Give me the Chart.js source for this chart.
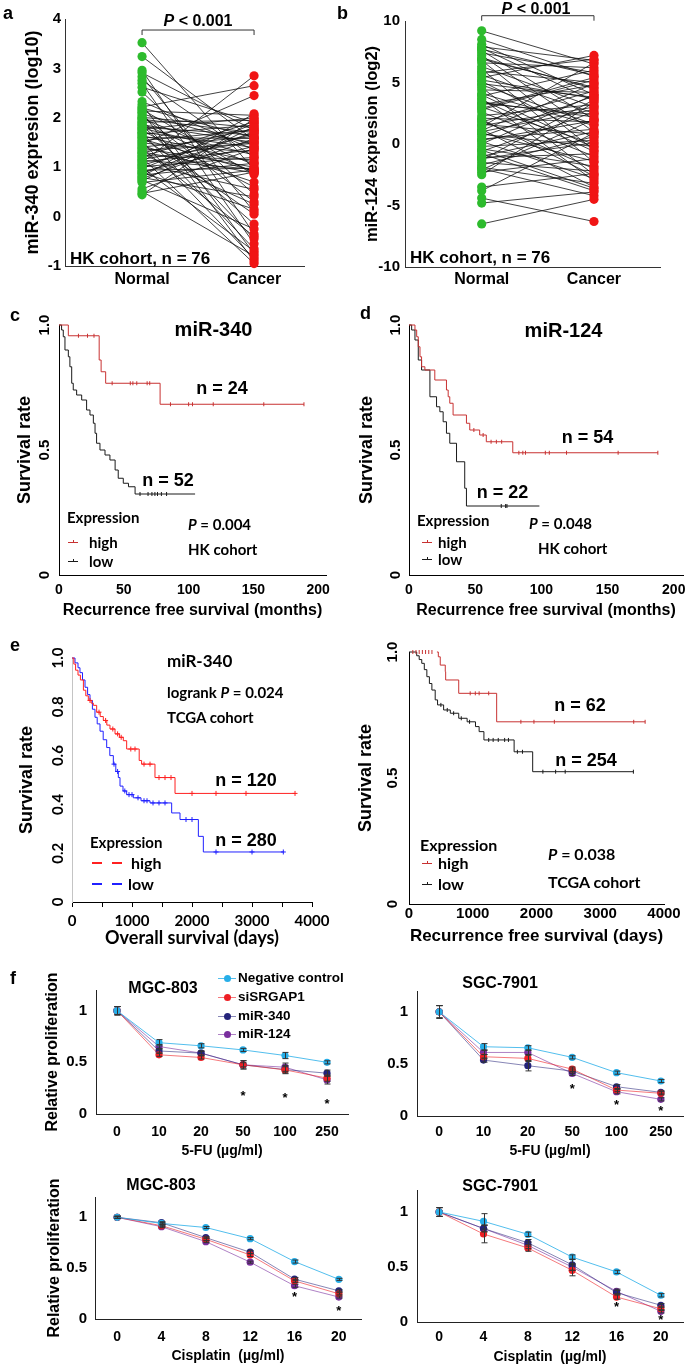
<!DOCTYPE html>
<html><head><meta charset="utf-8">
<script src="https://cdn.jsdelivr.net/npm/chart.js@4.4.1/dist/chart.umd.min.js"></script>
<style>
html,body{margin:0;padding:0;background:#fff;}
#root{position:relative;width:685px;height:1366px;overflow:hidden;background:#fff;}
.t{position:absolute;white-space:nowrap;line-height:1;color:#000;font-weight:bold;}
.A{font-family:'Liberation Sans',Arial,sans-serif;}
.C{font-family:Lato,'Liberation Sans',sans-serif;}
.mk{position:absolute;}
</style></head><body><div id="root"></div>
<script>
// ---------------- DATA ----------------
const pairCats = ['Normal', 'Cancer'];
const a_normal = [3.52, 3.24, 2.96, 2.91, 2.83, 2.76, 2.70, 2.62, 2.52, 2.33,
  2.27, 2.22, 2.20, 2.17, 2.14, 2.11, 2.08, 2.04, 2.01, 1.99,
  1.97, 1.93, 1.91, 1.88, 1.86, 1.84, 1.81, 1.79, 1.77, 1.74,
  1.71, 1.69, 1.67, 1.64, 1.61, 1.60, 1.57, 1.54, 1.52, 1.49,
  1.47, 1.44, 1.41, 1.39, 1.37, 1.34, 1.31, 1.29, 1.27, 1.24,
  1.21, 1.19, 1.16, 1.14, 1.11, 1.09, 1.06, 1.04, 1.01, 0.99,
  0.97, 0.94, 0.91, 0.89, 0.87, 0.84, 0.81, 0.79, 0.77, 0.74,
  0.72, 0.69, 0.56, 0.51, 0.47, 0.44];
const a_cancer = [0.95, 1.55, -0.35, 1.75, 0.10, 1.20, -0.55, 1.90, 0.45, 1.35,
  -0.75, 2.65, 1.60, 0.85, 2.05, -0.90, 1.45, 0.30, 1.80, 1.05,
  1.70, -0.45, 1.95, 0.90, 1.50, -0.15, 1.65, 1.25, 2.00, 0.60,
  1.40, -0.65, 1.85, 1.10, 0.05, 1.58, 0.92, 1.75, -0.85, 1.30,
  2.45, 0.70, 1.62, 1.00, -0.40, 1.48, 0.88, 1.78, 0.25, 1.15,
  1.92, -0.95, 1.52, 0.96, 1.35, 2.85, 0.55, 1.68, 1.20, -0.70,
  1.88, 0.98, 1.42, 0.15, 1.72, 1.08, 2.08, 0.40, 1.58, -0.25,
  1.82, 0.94, 1.38, -0.80, 0.90, 1.98];
const b_normal = [9.2, 8.5, 8.1, 7.9, 7.8, 7.6, 7.4, 7.2, 7.0, 6.8,
  6.6, 6.3, 6.1, 5.9, 5.6, 5.4, 5.1, 4.9, 4.6, 4.4,
  4.1, 3.9, 3.7, 3.4, 3.2, 3.0, 2.8, 2.6, 2.3, 2.1,
  1.9, 1.8, 1.6, 1.4, 1.2, 1.0, 0.8, 0.6, 0.4, 0.2,
  0.0, -0.2, -0.4, -0.6, -0.8, -1.0, -1.1, -1.3, -1.5, -1.7,
  -1.9, -2.1, -2.3, -2.5, 7.7, 6.9, 5.8, 4.8, 3.6, 2.9,
  2.0, 1.5, 0.9, 0.3, -0.5, -1.2, -2.0, 5.2, 4.0, 1.1,
  -3.5, -3.8, -4.4, -4.8, -6.5, 3.3];
const b_cancer = [6.5, 5.5, 4.0, 6.8, 3.5, 2.0, 5.8, 1.0, 4.5, -0.5,
  6.2, 3.0, -1.5, 5.0, 2.5, 7.2, 0.5, 3.8, -2.5, 4.2,
  1.5, 6.0, -3.0, 2.2, 4.8, 0.0, 5.2, -1.0, 3.2, 1.8,
  -2.0, 4.3, 0.8, 6.6, -3.5, 2.8, -0.2, 3.9, 1.2, -2.8,
  4.0, 0.3, -1.8, 2.6, -3.8, 1.0, -0.8, 3.6, -2.2, 0.6,
  -3.2, 2.0, -1.2, 3.4, 5.6, 4.6, 6.9, 1.6, -0.6, 5.4,
  -2.6, 3.0, -1.4, 1.9, -3.6, 0.1, -4.2, 3.7, -0.3, 4.9,
  -2.4, 0.9, -6.3, -3.9, -4.5, 2.4];

// c: miR-340 HK cohort (months)
const c_high_t = [0, 7.2, 31, 32.5, 36, 78, 189];
const c_high_s = [1.0, 0.957, 0.86, 0.813, 0.767, 0.683, 0.683];
const c_high_cens = [15, 22, 27, 41, 55, 57, 60, 68, 70, 86, 100, 103, 119, 158, 189];
const c_low_t = [0, 2, 3.3, 4.6, 7.2, 8.4, 9.8, 11, 13.6, 17.5, 21.3, 23.9, 26.5, 27.8, 29, 31.6, 35.5, 39.3, 43.3, 45.7, 49.6, 53.6, 58.7, 105];
const c_low_s = [1.0, 0.98, 0.953, 0.90, 0.873, 0.833, 0.767, 0.74, 0.72, 0.70, 0.66, 0.64, 0.607, 0.567, 0.527, 0.50, 0.48, 0.46, 0.42, 0.387, 0.367, 0.353, 0.324, 0.324];
const c_low_cens = [62.5, 68.7, 71.7, 74, 76, 79, 83];
// d: miR-124 HK cohort (months)
const d_high_t = [0, 4.5, 5.8, 7, 8.3, 9.5, 12, 19.5, 28.3, 29.6, 30.8, 33.3, 43.4, 45.9, 53.4, 58.4, 78.4, 188];
const d_high_s = [1.0, 0.98, 0.953, 0.913, 0.873, 0.833, 0.82, 0.78, 0.74, 0.713, 0.687, 0.64, 0.607, 0.58, 0.56, 0.533, 0.489, 0.489];
const d_high_cens = [49, 56, 62, 66, 70, 83, 86, 88, 103, 106, 119, 158, 188];
const d_low_t = [0, 2, 4.5, 7, 9.5, 15.8, 20.8, 23.3, 25.8, 28.3, 30.8, 35.9, 42.1, 43.4, 98.5];
const d_low_s = [1.0, 0.98, 0.94, 0.86, 0.82, 0.713, 0.673, 0.653, 0.613, 0.567, 0.527, 0.453, 0.347, 0.276, 0.276];
const d_low_cens = [69.7, 73, 74];
// e: miR-340 TCGA overall survival (days)
const e_high_t = [0, 30, 60, 100, 140, 190, 230, 272, 320, 355, 411, 470, 522, 580, 633, 717, 790, 855, 911, 1120, 1160, 1383, 1717, 3717];
const e_high_s = [1.0, 0.975, 0.95, 0.93, 0.91, 0.868, 0.845, 0.826, 0.815, 0.806, 0.778, 0.76, 0.744, 0.725, 0.709, 0.689, 0.675, 0.661, 0.627, 0.58, 0.565, 0.51, 0.445, 0.445];
const e_high_cens = [300, 450, 560, 680, 760, 820, 980, 1050, 1200, 1300, 1450, 1550, 1650, 2000, 2400, 2900, 3717];
const e_low_t = [0, 50, 100, 133, 175, 217, 260, 300, 340, 383, 420, 467, 520, 578, 630, 689, 730, 772, 800, 850, 911, 1022, 1150, 1300, 1661, 1800, 2106, 2189, 3522];
const e_low_s = [1.0, 0.98, 0.96, 0.94, 0.91, 0.88, 0.85, 0.826, 0.79, 0.757, 0.73, 0.70, 0.665, 0.633, 0.60, 0.565, 0.535, 0.51, 0.475, 0.455, 0.44, 0.427, 0.415, 0.406, 0.365, 0.338, 0.269, 0.205, 0.205];
const e_low_cens = [700, 760, 880, 950, 1000, 1100, 1200, 1250, 1350, 1450, 1550, 1900, 2000, 2400, 3000, 3522];
// e (right): TCGA recurrence free survival (days)
const r_high_t = [438, 460, 490, 569, 575, 780, 1375, 3704];
const r_high_s = [1.0, 0.981, 0.948, 0.922, 0.889, 0.836, 0.723, 0.723];
const r_high_cens = [60, 110, 160, 210, 260, 310, 360, 960, 1040, 1100, 1250, 1755, 1960, 2280, 3525, 3704];
const r_low_t = [0, 121, 160, 200, 240, 280, 320, 359, 411, 448, 543, 648, 780, 912, 1043, 1100, 1175, 1649, 1940, 3520];
const r_low_s = [1.0, 0.985, 0.97, 0.955, 0.93, 0.902, 0.875, 0.849, 0.81, 0.79, 0.77, 0.757, 0.737, 0.723, 0.704, 0.684, 0.651, 0.604, 0.525, 0.525];
const r_low_cens = [500, 600, 700, 820, 950, 1250, 1320, 1400, 1500, 1560, 1700, 1780, 2100, 2300, 2450, 3520];

// f: relative proliferation
const f_series = ['Negative control', 'siSRGAP1', 'miR-340', 'miR-124'];
const fu_doses = ['0', '10', '20', '50', '100', '250'];
const cis_doses = ['0', '4', '8', '12', '16', '20'];
const mgc_fu = [[1.00, 0.69, 0.66, 0.62, 0.566, 0.50], [1.00, 0.573, 0.547, 0.476, 0.427, 0.347], [1.00, 0.61, 0.589, 0.476, 0.43, 0.395], [1.00, 0.653, 0.589, 0.476, 0.453, 0.33]];
const mgc_fu_err = [[0.04, 0.03, 0.02, 0.015, 0.03, 0.015], [0.04, 0.015, 0.015, 0.02, 0.03, 0.03], [0.04, 0.02, 0.02, 0.04, 0.04, 0.03], [0.04, 0.02, 0.02, 0.04, 0.04, 0.04]];
const mgc_fu_star_x = [3, 4, 5], mgc_fu_star_y = [0.2, 0.18, 0.12];
const sgc_fu = [[1.00, 0.665, 0.655, 0.563, 0.416, 0.336], [1.00, 0.569, 0.553, 0.45, 0.249, 0.218], [1.00, 0.537, 0.483, 0.431, 0.281, 0.227], [1.00, 0.61, 0.61, 0.409, 0.233, 0.16]];
const sgc_fu_err = [[0.06, 0.03, 0.02, 0.015, 0.015, 0.015], [0.06, 0.02, 0.03, 0.02, 0.015, 0.015], [0.06, 0.02, 0.05, 0.02, 0.02, 0.015], [0.06, 0.02, 0.02, 0.02, 0.02, 0.015]];
const sgc_fu_star_x = [3, 4, 5], sgc_fu_star_y = [0.28, 0.13, 0.07];
const mgc_cis = [[1.00, 0.94, 0.90, 0.79, 0.565, 0.39], [1.00, 0.918, 0.784, 0.63, 0.375, 0.248], [1.00, 0.947, 0.80, 0.657, 0.392, 0.277], [1.00, 0.908, 0.761, 0.559, 0.327, 0.216]];
const mgc_cis_err = [[0.01, 0.01, 0.01, 0.01, 0.015, 0.01], [0.01, 0.01, 0.015, 0.015, 0.015, 0.01], [0.01, 0.01, 0.01, 0.015, 0.015, 0.01], [0.01, 0.01, 0.01, 0.01, 0.015, 0.01]];
const mgc_cis_star_x = [4, 5], mgc_cis_star_y = [0.24, 0.1];
const sgc_cis = [[1.00, 0.915, 0.797, 0.59, 0.455, 0.243], [1.00, 0.80, 0.673, 0.47, 0.227, 0.12], [1.00, 0.85, 0.72, 0.52, 0.267, 0.152], [1.00, 0.85, 0.697, 0.50, 0.279, 0.097]];
const sgc_cis_err = [[0.04, 0.07, 0.02, 0.02, 0.015, 0.015], [0.04, 0.08, 0.03, 0.05, 0.02, 0.015], [0.04, 0.03, 0.03, 0.05, 0.02, 0.015], [0.04, 0.03, 0.03, 0.03, 0.02, 0.015]];
const sgc_cis_star_x = [4, 5], sgc_cis_star_y = [0.16, 0.04];

// ---------------- STYLE ----------------
const GREEN = '#2dbb2d', RED = '#f01515';
const KM_RED = '#c83232', KM_BLACK = '#1a1a1a', TC_RED = '#ff2020', TC_BLUE = '#2020ff';
const F_COLORS = ['#27aee8', '#ee1f24', '#24237a', '#7a2f9e'];
const F_LINES = ['rgba(39,174,232,0.8)', 'rgba(238,31,36,0.6)', 'rgba(36,35,122,0.55)', 'rgba(122,47,158,0.6)'];
const FAM_A = "'Liberation Sans', Arial, sans-serif";
const FAM_C = "Lato, 'Liberation Sans', sans-serif";
const FA = s => ({family: FAM_A, size: s, weight: 'bold'});
const FC = s => ({family: FAM_C, size: s, weight: 'bold'});
Chart.defaults.font.family = FAM_A;
Chart.defaults.font.weight = 'bold';
Chart.defaults.color = '#000';

const root = document.getElementById('root');

function mk(box, area, cfg) {
  const [bx, by, bw, bh] = box, [L, T, R, B] = area;
  const cv = document.createElement('canvas');
  cv.width = bw; cv.height = bh;
  cv.style.cssText = `position:absolute;left:${bx}px;top:${by}px;width:${bw}px;height:${bh}px;`;
  root.appendChild(cv);
  const o = cfg.options;
  o.responsive = false; o.animation = false; o.events = [];
  o.layout = {padding: {left: 0, top: T - by, right: bx + bw - R, bottom: 0}};
  o.scales.x.afterFit = s => { s.height = by + bh - B; };
  o.scales.y.afterFit = s => { s.width = L - bx; };
  o.plugins = Object.assign({legend: {display: false}, tooltip: {enabled: false}}, o.plugins || {});
  return new Chart(cv, cfg);
}

function T(x, y, html, size, fam, anchor) {
  const d = document.createElement('div');
  d.className = 't ' + fam;
  d.style.left = x + 'px'; d.style.top = y + 'px'; d.style.fontSize = size + 'px';
  d.style.transform = anchor === 'c' ? 'translate(-50%,-50%)' : 'translate(0,-50%)';
  d.innerHTML = html;
  root.appendChild(d);
}
function box(x, y, w, h, css) {
  const d = document.createElement('div');
  d.className = 'mk';
  d.style.cssText += `left:${x}px;top:${y}px;width:${w}px;height:${h}px;` + css;
  root.appendChild(d);
}
function kmKey(x, y, color) { box(x, y - 0.5, 10, 1, 'background:' + color); box(x + 5, y - 2, 1, 2, 'background:' + color); }

// ---------------- PLUGINS ----------------
const bracket = {
  id: 'bracket',
  afterDraw(chart, args, o) {
    const ctx = chart.ctx, xs = chart.scales.x, ys = chart.scales.y;
    const x1 = xs.getPixelForValue(1), x2 = xs.getPixelForValue(2), y = ys.getPixelForValue(o.level);
    ctx.save(); ctx.strokeStyle = '#333'; ctx.lineWidth = 1;
    ctx.beginPath(); ctx.moveTo(x1, y + 5); ctx.lineTo(x1, y); ctx.lineTo(x2, y); ctx.lineTo(x2, y + 5); ctx.stroke();
    ctx.restore();
  }
};
const errorBars = {
  id: 'errorBars',
  afterDatasetsDraw(chart) {
    const ctx = chart.ctx, ys = chart.scales.y;
    ctx.save(); ctx.strokeStyle = '#333'; ctx.lineWidth = 1;
    chart.data.datasets.forEach((ds, di) => {
      if (!ds.errors) return;
      const meta = chart.getDatasetMeta(di);
      ds.data.forEach((v, i) => {
        const e = ds.errors[i]; if (!e) return;
        const x = Math.round(meta.data[i].x) + 0.5;
        const y1 = ys.getPixelForValue(v + e), y2 = ys.getPixelForValue(v - e);
        ctx.beginPath(); ctx.moveTo(x, y1); ctx.lineTo(x, y2);
        ctx.moveTo(x - 3, y1); ctx.lineTo(x + 3, y1); ctx.moveTo(x - 3, y2); ctx.lineTo(x + 3, y2);
        ctx.stroke();
      });
    });
    ctx.restore();
  }
};
const stars = {
  id: 'stars',
  afterDatasetsDraw(chart, args, o) {
    if (!o.idx) return;
    const ctx = chart.ctx;
    ctx.save(); ctx.fillStyle = '#000'; ctx.font = "bold 13px " + FAM_A; ctx.textAlign = 'center'; ctx.textBaseline = 'middle';
    o.idx.forEach((ix, k) => ctx.fillText('*', chart.scales.x.getPixelForValue(ix), chart.scales.y.getPixelForValue(o.val[k]) + 3));
    ctx.restore();
  }
};

// ---------------- PAIRED PLOTS (a, b) ----------------
function paired(bx, area, normal, cancer, yMin, yMax, step, title, tSize, tPad, xMin, xMax, level, yPad, xPad) {
  const lines = [];
  normal.forEach((v, i) => { lines.push({x: 1, y: v}, {x: 2, y: cancer[i]}, {x: 1.5, y: null}); });
  return mk(bx, area, {
    type: 'scatter',
    data: {datasets: [
      {data: lines, showLine: true, borderColor: '#111', borderWidth: 0.8, pointRadius: 0, order: 2, clip: false},
      {data: normal.map(v => ({x: 1, y: v})), backgroundColor: GREEN, pointRadius: 4.6, borderWidth: 0, order: 1, clip: false},
      {data: cancer.map(v => ({x: 2, y: v})), backgroundColor: RED, pointRadius: 4.6, borderWidth: 0, order: 1, clip: false}
    ]},
    options: {
      scales: {
        x: {type: 'linear', min: xMin, max: xMax,
          afterBuildTicks: s => { s.ticks = [{value: 1}, {value: 2}]; },
          ticks: {callback: v => pairCats[Math.round(v) - 1], font: FA(16), padding: xPad, autoSkip: false, maxRotation: 0},
          grid: {display: false, drawTicks: false}, border: {color: '#333'}},
        y: {min: yMin, max: yMax,
          ticks: {stepSize: step, font: FA(15), padding: yPad},
          grid: {display: false, drawTicks: false}, border: {color: '#333'},
          title: {display: true, text: title, font: FA(tSize), padding: {top: tPad}}}
      },
      plugins: {bracket: {level}}
    },
    plugins: [bracket]
  });
}
paired([0, 0, 340, 290], [65, 19, 304, 266], a_normal, a_cancer, -1, 4, 1, 'miR-340 expresion (log10)', 18, 22.2, 0.312, 2.446, 3.777, 4, 4.4);
paired([340, 0, 360, 290], [405, 21, 660, 267], b_normal, b_cancer, -10, 10, 5, 'miR-124 expresion (log2)', 16.5, 22.1, 0.317, 2.588, 10.43, 5, 3.4);

// ---------------- KM PLOTS ----------------
function censorPts(ts, ss, cs) {
  return cs.map(t => { let s = ss[0]; for (let i = 0; i < ts.length; i++) if (ts[i] <= t) s = ss[i]; return {x: t, y: s}; });
}
function kmSets(ts, ss, cs, color, style) {
  return [
    {data: ts.map((t, i) => ({x: t, y: ss[i]})), showLine: true, stepped: 'before', borderColor: color, borderWidth: 1, pointRadius: 0, clip: false},
    {data: censorPts(ts, ss, cs), pointStyle: style, rotation: style === 'line' ? 90 : 0, pointRadius: style === 'line' ? 2 : 2.5, borderColor: color, backgroundColor: color, borderWidth: 1, clip: false}
  ];
}
function kmChart(bx, area, sets, o) {
  return mk(bx, area, {
    type: 'scatter',
    data: {datasets: sets},
    options: {scales: {
      x: {type: 'linear', min: 0, max: o.xMax,
        ticks: {stepSize: o.xStep, includeBounds: false, font: o.xFont, padding: o.xPad, autoSkip: false, maxRotation: 0,
          callback: v => (v % o.xLabelEvery === 0 ? String(v) : '')},
        grid: o.xTicks ? {display: true, drawOnChartArea: false, drawTicks: true, tickLength: 5, color: '#000'} : {display: false, drawTicks: false},
        border: {color: '#000'},
        title: {display: true, text: o.xTitle, font: o.xTitleFont, padding: {top: 0, bottom: o.xTitlePad}}},
      y: {min: 0, max: 1,
        ticks: {stepSize: o.yStep, font: o.yFont, padding: o.yPad, minRotation: 90, maxRotation: 90, crossAlign: 'center',
          callback: v => (v === 0 ? '0' : v.toFixed(1))},
        grid: {display: false, drawTicks: false},
        border: {color: o.yBorder || '#000'},
        title: {display: true, text: 'Survival rate', font: FA(18), padding: {top: o.yTitlePad}}}
    }}
  });
}
kmChart([0, 300, 340, 322], [59, 325, 326, 575],
  [...kmSets(c_high_t, c_high_s, c_high_cens, KM_RED, 'line'), ...kmSets(c_low_t, c_low_s, c_low_cens, KM_BLACK, 'line')],
  {xMax: 206, xStep: 50, xLabelEvery: 50, xFont: FA(14), xPad: 6.6, xTicks: false, xTitle: 'Recurrence free survival (months)', xTitleFont: FA(16), xTitlePad: 1.9,
   yStep: 0.5, yFont: FA(15), yPad: 4, yTitlePad: 14.2});
kmChart([340, 300, 360, 322], [409, 325, 683, 575],
  [...kmSets(d_high_t, d_high_s, d_high_cens, KM_RED, 'line'), ...kmSets(d_low_t, d_low_s, d_low_cens, KM_BLACK, 'line')],
  {xMax: 207, xStep: 50, xLabelEvery: 50, xFont: FA(14), xPad: 6.6, xTicks: false, xTitle: 'Recurrence free survival (months)', xTitleFont: FA(16), xTitlePad: 1.4,
   yStep: 0.5, yFont: FA(15), yPad: 3, yTitlePad: 16.7});
kmChart([0, 630, 340, 320], [72, 658, 312, 902],
  [...kmSets(e_high_t, e_high_s, e_high_cens, TC_RED, 'cross'), ...kmSets(e_low_t, e_low_s, e_low_cens, TC_BLUE, 'cross')],
  {xMax: 4000, xStep: 500, xLabelEvery: 1000, xFont: FC(15), xPad: 5, xTicks: true, xTitle: 'Overall survival (days)', xTitleFont: FC(18), xTitlePad: 1,
   yStep: 0.2, yFont: FC(15), yPad: 3, yTitlePad: 16.2, yBorder: '#c4c4c4'});
kmChart([340, 630, 360, 320], [409, 652, 664, 904],
  [...kmSets(r_high_t, r_high_s, r_high_cens, KM_RED, 'line'), ...kmSets(r_low_t, r_low_s, r_low_cens, KM_BLACK, 'line')],
  {xMax: 4000, xStep: 1000, xLabelEvery: 1000, xFont: FA(15), xPad: 1, xTicks: false, xTitle: 'Recurrence free survival (days)', xTitleFont: FA(17), xTitlePad: 3.3,
   yStep: 0.5, yFont: FA(15), yPad: 5.6, yTitlePad: 15.7});

// ---------------- PROLIFERATION (f) ----------------
function prolif(bx, area, labels, vals, errs, sx, sy, xTitle, xPad, xTitlePad, yPad, yTitlePad) {
  return mk(bx, area, {
    type: 'line',
    data: {labels, datasets: vals.map((v, k) => ({
      label: f_series[k], data: v, errors: errs[k], borderColor: F_LINES[k], backgroundColor: F_COLORS[k],
      pointBackgroundColor: F_COLORS[k], borderWidth: 1, pointRadius: 3.6, pointBorderWidth: 0, clip: false}))},
    options: {
      scales: {
        x: {type: 'category', offset: true,
          ticks: {font: FA(14), padding: xPad, autoSkip: false, maxRotation: 0},
          grid: {display: false, drawTicks: false}, border: {color: '#222'},
          title: {display: true, text: xTitle, font: FA(14), padding: {top: 0, bottom: xTitlePad}}},
        y: {min: 0, max: 1.2,
          ticks: {stepSize: 0.5, includeBounds: false, font: FA(15), padding: yPad, callback: v => String(v)},
          grid: {display: false, drawTicks: false}, border: {color: '#222'},
          title: {display: yTitlePad !== null, text: 'Relative proliferation', font: FA(16), padding: {top: yTitlePad || 0}}}
      },
      plugins: {stars: {idx: sx, val: sy}}
    },
    plugins: [errorBars, stars]
  });
}
prolif([0, 960, 360, 205], [96, 990, 348, 1114], fu_doses, mgc_fu, mgc_fu_err, mgc_fu_star_x, mgc_fu_star_y, '5-FU (µg/ml)', 9.6, 5.6, 9, 43.4);
prolif([340, 960, 360, 205], [417, 991, 683, 1116], fu_doses, sgc_fu, sgc_fu_err, sgc_fu_star_x, sgc_fu_star_y, '5-FU (µg/ml)', 7.3, 5.6, 9, null);
prolif([0, 1165, 370, 201], [95, 1197, 361, 1319], cis_doses, mgc_cis, mgc_cis_err, mgc_cis_star_x, mgc_cis_star_y, 'Cisplatin  (µg/ml)', 9.6, 1.6, 8, 44.9);
prolif([340, 1165, 360, 201], [417, 1190, 683, 1322], cis_doses, sgc_cis, sgc_cis_err, sgc_cis_star_x, sgc_cis_star_y, 'Cisplatin  (µg/ml)', 6.6, 0.9, 9, null);

// ---------------- TEXT ----------------
// panel letters
T(3, 13, 'a', 18, 'A', 'l'); T(337, 13, 'b', 18, 'A', 'l');
T(10, 315, 'c', 18, 'A', 'l'); T(360, 313, 'd', 18, 'A', 'l');
T(10, 645, 'e', 18, 'A', 'l'); T(10, 978, 'f', 18, 'A', 'l');
// a, b
T(198, 21, '<i>P</i> &lt; 0.001', 16, 'A', 'c');
T(70, 257.5, 'HK cohort, n = 76', 17, 'A', 'l');
T(536, 9, '<i>P</i> &lt; 0.001', 16, 'A', 'c');
T(410, 257, 'HK cohort, n = 76', 17, 'A', 'l');
// c
T(213.5, 329, 'miR-340', 20, 'A', 'c');
T(222, 388, 'n = 24', 18, 'A', 'c');
T(168, 480, 'n = 52', 18, 'A', 'c');
T(67, 517, 'Expression', 15, 'C', 'l');
T(188, 524, '<i>P</i> = 0.004', 15, 'C', 'l');
T(89, 542, 'high', 15, 'C', 'l'); T(89, 561, 'low', 15, 'C', 'l');
T(188, 549, 'HK cohort', 15, 'C', 'l');
kmKey(68, 542, KM_RED); kmKey(68, 561, KM_BLACK);
// d
T(563.5, 329.5, 'miR-124', 20, 'A', 'c');
T(587.5, 437, 'n = 54', 18, 'A', 'c');
T(502.5, 491.5, 'n = 22', 18, 'A', 'c');
T(417, 520, 'Expression', 15, 'C', 'l');
T(529, 523, '<i>P</i> = 0.048', 15, 'C', 'l');
T(438, 542, 'high', 15, 'C', 'l'); T(438, 559, 'low', 15, 'C', 'l');
T(538, 548, 'HK cohort', 15, 'C', 'l');
kmKey(422, 542, KM_RED); kmKey(422, 559, KM_BLACK);
// e left
T(167, 660, 'miR-340', 17, 'C', 'l');
T(167, 692, 'logrank <i>P</i> = 0.024', 15, 'C', 'l');
T(167, 717, 'TCGA cohort', 15, 'C', 'l');
T(246, 780, 'n = 120', 18, 'A', 'c');
T(246, 840, 'n = 280', 18, 'A', 'c');
T(90, 842, 'Expression', 15, 'C', 'l');
T(131, 863, 'high', 16, 'C', 'l'); T(128, 884, 'low', 16, 'C', 'l');
box(92, 862, 32, 1.5, `background:repeating-linear-gradient(to right, ${TC_RED} 0 10px, transparent 10px 20px);`);
box(92, 883, 32, 1.5, `background:repeating-linear-gradient(to right, ${TC_BLUE} 0 10px, transparent 10px 20px);`);
// e right
T(580, 705, 'n = 62', 18, 'A', 'c');
T(586, 760, 'n = 254', 18, 'A', 'c');
T(420, 845, 'Expression', 16, 'C', 'l');
T(438, 863, 'high', 16, 'C', 'l'); T(438, 884, 'low', 16, 'C', 'l');
T(548, 854, '<i>P</i> = 0.038', 16, 'C', 'l');
T(548, 882, 'TCGA cohort', 16, 'C', 'l');
kmKey(422, 863, KM_RED); kmKey(422, 884, KM_BLACK);
// f
T(163, 988, 'MGC-803', 16, 'A', 'c');
T(500, 983, 'SGC-7901', 16, 'A', 'c');
T(161, 1185, 'MGC-803', 16, 'A', 'c');
T(500, 1186, 'SGC-7901', 16, 'A', 'c');
[978, 997, 1016, 1034].forEach((y, k) => {
  box(218, y - 0.5, 18, 1, 'background:' + F_LINES[k]);
  box(223.5, y - 3.5, 7, 7, 'border-radius:50%;background:' + F_COLORS[k]);
  T(238, y, f_series[k], 13.5, 'A', 'l');
});
</script></body></html>
